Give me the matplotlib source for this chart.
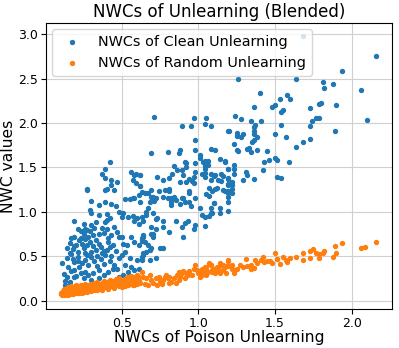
import matplotlib
matplotlib.use("Agg")
import matplotlib.pyplot as plt

title = "NWCs of Unlearning (Blended)"
xlabel = "NWCs of Poison Unlearning"
ylabel = "NWC values"
clean_label = "NWCs of Clean Unlearning"
random_label = "NWCs of Random Unlearning"

# Clean unlearning NWCs (x = poison NWC, y = clean NWC)
clean_x = [
    2.16, 1.94, 1.81, 1.88, 1.82, 2.06, 1.64, 1.26, 1.40, 1.58, 1.53, 1.60, 1.80, 1.79, 1.90, 1.73,
    1.50, 1.48, 1.36, 1.55, 1.54, 1.77, 1.79, 1.74, 1.24, 1.28, 1.34, 1.41, 1.37, 1.36, 1.36, 1.36,
    2.10, 1.54, 1.73, 1.20, 1.89, 1.25, 1.29, 1.25, 1.28, 1.50, 1.38, 1.36, 1.35, 1.57, 1.73, 1.68,
    1.23, 1.64, 1.32, 1.33, 1.25, 1.26, 1.38, 1.34, 1.45, 1.50, 1.51, 1.46, 1.43, 1.59, 1.17, 1.23,
    1.19, 1.23, 1.42, 1.31, 1.32, 1.23, 1.51, 1.54, 1.36, 1.19, 1.22, 1.22, 1.19, 1.22, 1.19, 1.22,
    1.19, 1.68,
    0.71, 0.97, 1.05, 1.04, 1.08, 0.89, 0.95, 1.19, 0.98, 0.98, 0.88, 0.87, 0.80, 0.69, 1.08, 1.11,
    1.01, 1.01, 1.04, 1.06, 1.03, 1.14, 1.17, 0.91, 0.92, 0.84, 0.86, 0.89, 0.92, 0.83, 0.90, 0.98,
    0.97, 1.04, 1.04, 1.19, 1.02, 0.73, 0.81, 0.77, 0.94, 0.96, 0.92, 1.08, 1.10, 1.11, 1.15, 1.16,
    1.13, 1.08, 1.15, 1.19, 0.88, 0.97, 0.62, 0.62, 1.07, 1.11, 1.16, 1.09, 0.69, 0.74, 0.78, 0.81,
    0.81, 0.94, 0.94, 1.19, 0.65, 0.67, 0.70, 0.82, 0.84, 0.90, 1.05, 1.07, 0.98,
    0.42, 0.39, 0.37, 0.39, 0.43, 0.47, 0.43, 0.27, 0.40, 0.56, 0.59, 0.62, 0.58, 0.57, 0.59, 0.62,
    0.27, 0.39, 0.45, 0.52, 0.55, 0.58, 0.61, 0.63, 0.57, 0.30, 0.35, 0.39, 0.43, 0.46, 0.29, 0.30,
    0.35, 0.40, 0.42, 0.40, 0.39, 0.48, 0.51, 0.50, 0.54, 0.57, 0.60, 0.58, 0.61, 0.64, 0.19, 0.21,
    0.26, 0.29, 0.32, 0.35, 0.31, 0.28, 0.25, 0.17, 0.19, 0.23, 0.41, 0.41, 0.45, 0.47, 0.48, 0.50,
    0.51, 0.53, 0.56, 0.58, 0.61, 0.63, 0.64,
    0.14, 0.11, 0.16, 0.19, 0.21, 0.25, 0.18, 0.21, 0.27, 0.30, 0.33, 0.37, 0.39, 0.40, 0.43, 0.48,
    0.50, 0.52, 0.55, 0.60, 0.63, 0.15, 0.19, 0.23, 0.26, 0.28, 0.31, 0.35, 0.38, 0.41, 0.44, 0.48,
    0.51, 0.54, 0.58, 0.25, 0.30, 0.35, 0.19, 0.16, 0.13, 0.15,
    0.62, 0.69, 0.71, 0.72, 0.68, 0.77, 0.80, 0.82, 0.84, 0.85, 0.82, 0.88, 0.89, 0.91, 0.94, 0.95,
    1.01, 1.08, 1.14, 1.09, 1.19, 1.19, 0.67, 0.66, 0.70, 0.73, 0.72, 0.66, 0.63, 0.77, 0.77, 0.85,
    0.89, 0.91, 0.93, 0.97, 0.98, 0.81, 0.69, 0.70, 0.70, 0.69, 0.72, 0.64, 0.63, 0.65, 0.67, 0.68,
    0.66, 0.69, 0.64, 0.63, 0.77, 0.90,
    1.04, 1.06, 1.04, 1.10, 1.12, 1.17, 1.19, 1.10, 1.04, 1.08, 1.07, 1.14, 1.04, 1.29, 0.98, 1.02,
    0.61, 0.68, 0.72, 0.75, 0.64,
    0.12, 0.13, 0.14, 0.17, 0.20, 0.22, 0.24, 0.26, 0.28, 0.32, 0.34, 0.36, 0.38, 0.42, 0.45, 0.47,
    0.52, 0.56, 0.14, 0.16, 0.18, 0.20, 0.22, 0.24, 0.26, 0.27, 0.29, 0.31, 0.33, 0.35, 0.36, 0.23,
    0.25, 0.27, 0.30, 0.33, 0.37, 0.38, 0.40, 0.43, 0.44, 0.46, 0.42, 0.38, 0.34, 0.30, 0.26, 0.21,
    0.19, 0.17,
]
clean_y = [
    2.75, 2.58, 2.46, 2.44, 2.39, 2.37, 2.50, 2.49, 2.34, 2.32, 2.27, 2.27, 2.22, 2.21, 2.20, 2.17,
    2.20, 2.18, 2.18, 2.15, 2.12, 2.06, 2.06, 2.02, 2.08, 2.04, 2.02, 2.02, 1.98, 1.95, 1.91, 1.87,
    2.03, 1.98, 1.96, 1.91, 1.91, 1.89, 1.87, 1.85, 1.84, 1.87, 1.84, 1.81, 1.78, 1.84, 1.82, 1.78,
    1.76, 1.73, 1.71, 1.72, 1.70, 1.68, 1.69, 1.67, 1.68, 1.61, 1.58, 1.58, 1.56, 1.56, 1.56, 1.53,
    1.48, 1.48, 1.47, 1.45, 1.41, 1.43, 1.39, 1.38, 1.37, 1.38, 1.33, 1.30, 1.31, 1.26, 1.21, 1.21,
    1.17, 2.98,
    2.07, 2.06, 2.06, 1.99, 1.96, 1.96, 1.96, 1.91, 1.81, 1.69, 1.70, 1.66, 1.67, 1.66, 1.71, 1.70,
    1.64, 1.60, 1.57, 1.57, 1.56, 1.59, 1.57, 1.56, 1.55, 1.51, 1.47, 1.47, 1.50, 1.43, 1.41, 1.45,
    1.39, 1.48, 1.44, 1.48, 1.42, 1.39, 1.38, 1.36, 1.37, 1.35, 1.34, 1.43, 1.40, 1.41, 1.43, 1.40,
    1.36, 1.36, 1.35, 1.37, 1.33, 1.32, 1.41, 1.29, 1.27, 1.26, 1.24, 1.23, 1.25, 1.23, 1.24, 1.26,
    1.23, 1.23, 1.21, 1.23, 1.21, 1.21, 1.17, 1.16, 1.16, 1.16, 1.20, 1.18, 1.16,
    1.56, 1.48, 1.42, 1.38, 1.36, 1.34, 1.30, 1.26, 1.26, 1.45, 1.43, 1.41, 1.41, 1.36, 1.32, 1.29,
    1.24, 1.24, 1.24, 1.14, 1.14, 1.16, 1.19, 1.22, 1.15, 1.12, 1.08, 1.11, 1.09, 1.07, 1.02, 0.98,
    0.96, 0.97, 0.93, 0.91, 0.88, 1.00, 0.98, 0.94, 0.94, 0.95, 0.93, 0.89, 0.86, 0.89, 0.90, 0.81,
    0.81, 0.78, 0.82, 0.75, 0.74, 0.72, 0.75, 0.70, 0.71, 0.70, 0.70, 0.66, 0.83, 0.77, 0.71, 0.71,
    0.64, 0.62, 0.71, 0.66, 0.63, 0.67, 0.71,
    0.59, 0.42, 0.53, 0.61, 0.55, 0.59, 0.47, 0.44, 0.51, 0.55, 0.57, 0.53, 0.51, 0.57, 0.50, 0.48,
    0.51, 0.55, 0.48, 0.46, 0.49, 0.38, 0.34, 0.31, 0.32, 0.29, 0.31, 0.34, 0.29, 0.32, 0.36, 0.27,
    0.29, 0.32, 0.34, 0.25, 0.23, 0.25, 0.26, 0.21, 0.17, 0.16,
    1.11, 1.17, 1.12, 1.15, 1.11, 1.17, 1.15, 1.11, 1.17, 1.13, 1.08, 1.09, 1.15, 1.11, 1.11, 1.06,
    1.04, 1.04, 1.04, 0.98, 1.01, 1.11, 1.04, 1.00, 0.99, 0.93, 0.92, 0.96, 0.94, 0.89, 0.83, 0.90,
    0.83, 0.87, 0.90, 0.81, 0.85, 0.77, 0.83, 0.75, 0.72, 0.75, 0.81, 0.74, 0.70, 0.66, 0.62, 0.57,
    0.55, 0.59, 0.51, 0.46, 0.59, 0.71,
    1.51, 1.53, 1.39, 1.10, 1.27, 1.23, 1.30, 1.10, 0.94, 0.99, 0.95, 0.98, 0.84, 1.36, 1.55, 0.96,
    0.36, 0.46, 0.48, 0.59, 0.53,
    0.30, 0.22, 0.27, 0.33, 0.28, 0.38, 0.42, 0.46, 0.40, 0.44, 0.39, 0.47, 0.41, 0.45, 0.40, 0.35,
    0.40, 0.38, 0.48, 0.65, 0.58, 0.63, 0.68, 0.64, 0.69, 0.62, 0.66, 0.61, 0.68, 0.64, 0.60, 0.78,
    0.86, 0.79, 0.85, 0.88, 0.82, 0.76, 0.80, 0.74, 0.62, 0.56, 0.60, 0.56, 0.50, 0.49, 0.54, 0.49,
    0.43, 0.52,
]

# Random unlearning NWCs
random_x = [
    2.16, 2.09, 2.06, 1.94, 1.89, 1.90, 1.88, 1.82, 1.81, 1.79, 1.77, 1.75, 1.73, 1.79, 1.73, 1.68,
    1.68, 1.64, 1.60, 1.58, 1.57, 1.53, 1.55, 1.51, 1.50, 1.51, 1.47, 1.48, 1.45, 1.43, 1.41, 1.42,
    1.37, 1.38, 1.36, 1.34, 1.31, 1.32, 1.34, 1.29, 1.27, 1.25, 1.24, 1.22, 1.19, 1.19, 1.22, 1.15,
    1.16, 1.14, 1.12, 1.10, 1.08, 1.05, 1.04, 1.03, 1.02, 1.01, 1.05, 1.09, 1.11, 1.18, 1.23, 1.07,
    0.63, 0.64, 0.62, 0.65, 0.66, 0.68, 0.69, 0.70, 0.72, 0.74, 0.75, 0.77, 0.78, 0.79, 0.80, 0.81,
    0.82, 0.84, 0.86, 0.87, 0.88, 0.89, 0.90, 0.92, 0.93, 0.94, 0.96, 0.97, 0.98, 0.99, 1.00, 1.01,
    1.02, 1.03, 1.04, 1.05, 1.08, 1.09, 1.10, 1.12, 1.13, 1.14, 1.16, 1.17, 1.19, 1.19, 1.16, 1.06,
    0.91, 0.85, 0.76, 0.67, 0.73, 0.81, 0.87,
    0.10, 0.10, 0.11, 0.11, 0.11, 0.12, 0.12, 0.12, 0.12, 0.13, 0.13, 0.13, 0.13, 0.14, 0.14, 0.14,
    0.14, 0.15, 0.15, 0.15, 0.15, 0.15, 0.16, 0.16, 0.16, 0.16, 0.17, 0.17, 0.17, 0.17, 0.17, 0.18,
    0.18, 0.18, 0.18, 0.19, 0.19, 0.19, 0.19, 0.20, 0.20, 0.20, 0.20, 0.21, 0.21, 0.21, 0.21, 0.22,
    0.22, 0.22, 0.22, 0.23, 0.23, 0.23, 0.23, 0.24, 0.24, 0.24, 0.25, 0.25, 0.25, 0.25, 0.26, 0.26,
    0.26, 0.26, 0.27, 0.27, 0.27, 0.28, 0.28, 0.28, 0.28, 0.29, 0.29, 0.29, 0.30, 0.30, 0.30, 0.30,
    0.32, 0.32, 0.32, 0.32, 0.33, 0.33, 0.33, 0.34, 0.34, 0.34, 0.34, 0.36, 0.36, 0.36, 0.37, 0.37,
    0.37, 0.37, 0.38, 0.38, 0.38, 0.40, 0.40, 0.40, 0.40, 0.41, 0.41, 0.41, 0.42, 0.42, 0.42, 0.44,
    0.44, 0.44, 0.44, 0.45, 0.45, 0.45, 0.46, 0.46, 0.46, 0.48, 0.48, 0.48, 0.48, 0.49, 0.49, 0.49,
    0.50, 0.50, 0.50, 0.52, 0.52, 0.52, 0.52, 0.53, 0.53, 0.53, 0.54, 0.54, 0.54, 0.56, 0.56, 0.56,
    0.56, 0.57, 0.57, 0.57, 0.58, 0.58, 0.58, 0.60, 0.60, 0.60, 0.60, 0.61, 0.61,
]
random_y = [
    0.66, 0.60, 0.59, 0.65, 0.61, 0.54, 0.49, 0.56, 0.54, 0.52, 0.53, 0.58, 0.56, 0.48, 0.48, 0.54,
    0.46, 0.49, 0.48, 0.43, 0.46, 0.41, 0.49, 0.47, 0.53, 0.47, 0.44, 0.42, 0.44, 0.43, 0.46, 0.49,
    0.46, 0.42, 0.37, 0.40, 0.47, 0.39, 0.35, 0.38, 0.40, 0.36, 0.34, 0.40, 0.46, 0.39, 0.36, 0.40,
    0.34, 0.31, 0.34, 0.36, 0.40, 0.38, 0.34, 0.31, 0.29, 0.27, 0.29, 0.32, 0.31, 0.31, 0.31, 0.42,
    0.32, 0.27, 0.20, 0.19, 0.25, 0.29, 0.23, 0.20, 0.25, 0.27, 0.22, 0.23, 0.27, 0.29, 0.25, 0.27,
    0.21, 0.25, 0.29, 0.32, 0.27, 0.31, 0.33, 0.31, 0.29, 0.33, 0.29, 0.35, 0.40, 0.34, 0.31, 0.33,
    0.35, 0.31, 0.38, 0.35, 0.40, 0.34, 0.32, 0.38, 0.36, 0.42, 0.40, 0.38, 0.44, 0.40, 0.34, 0.32,
    0.25, 0.20, 0.19, 0.18, 0.18, 0.20, 0.23,
    0.07, 0.09, 0.06, 0.10, 0.08, 0.07, 0.11, 0.09, 0.13, 0.08, 0.06, 0.10, 0.12, 0.07, 0.09, 0.11,
    0.14, 0.08, 0.10, 0.06, 0.12, 0.15, 0.09, 0.11, 0.07, 0.13, 0.08, 0.10, 0.12, 0.14, 0.16, 0.09,
    0.11, 0.13, 0.07, 0.10, 0.12, 0.08, 0.15, 0.09, 0.11, 0.13, 0.17, 0.10, 0.12, 0.14, 0.08, 0.11,
    0.13, 0.09, 0.16, 0.10, 0.12, 0.15, 0.18, 0.11, 0.13, 0.09, 0.12, 0.14, 0.10, 0.17, 0.11, 0.13,
    0.15, 0.19, 0.12, 0.14, 0.10, 0.13, 0.11, 0.16, 0.18, 0.12, 0.14, 0.17, 0.13, 0.15, 0.11, 0.19,
    0.12, 0.14, 0.16, 0.20, 0.13, 0.15, 0.18, 0.14, 0.12, 0.17, 0.21, 0.13, 0.15, 0.18, 0.14, 0.16,
    0.20, 0.12, 0.15, 0.17, 0.22, 0.14, 0.16, 0.19, 0.21, 0.15, 0.18, 0.13, 0.16, 0.20, 0.23, 0.15,
    0.17, 0.19, 0.22, 0.16, 0.21, 0.14, 0.17, 0.19, 0.24, 0.16, 0.18, 0.21, 0.25, 0.17, 0.20, 0.23,
    0.15, 0.19, 0.22, 0.18, 0.20, 0.24, 0.16, 0.19, 0.22, 0.27, 0.17, 0.21, 0.25, 0.19, 0.23, 0.20,
    0.28, 0.18, 0.22, 0.26, 0.20, 0.24, 0.17, 0.21, 0.25, 0.19, 0.29, 0.22, 0.27,
]

fig = plt.figure(figsize=(3.99, 3.48), dpi=100)
ax = fig.add_axes([0.1153, 0.112, 0.8672, 0.822])

ax.scatter(clean_x, clean_y, s=8, color="#1f77b4", label=clean_label, zorder=2)
ax.scatter(random_x, random_y, s=8, color="#ff7f0e", label=random_label, zorder=3)

ax.set_xlim(0.004, 2.264)
ax.set_ylim(-0.096, 3.126)
ax.set_xticks([0.5, 1.0, 1.5, 2.0])
ax.set_yticks([0.0, 0.5, 1.0, 1.5, 2.0, 2.5, 3.0])
ax.tick_params(labelsize=9, pad=2.5)
ax.grid(True, color="#d0d0d0", linewidth=0.8, zorder=0)
ax.set_axisbelow(True)

ax.set_title(title, fontsize=12, pad=4)
ax.set_xlabel(xlabel, fontsize=11.2, labelpad=0)
ax.set_ylabel(ylabel, fontsize=11.2, labelpad=1)
ax.legend(loc="upper left", fontsize=10.4, markerscale=1.0, borderaxespad=0.4)

fig.savefig("out.png", dpi=100)
